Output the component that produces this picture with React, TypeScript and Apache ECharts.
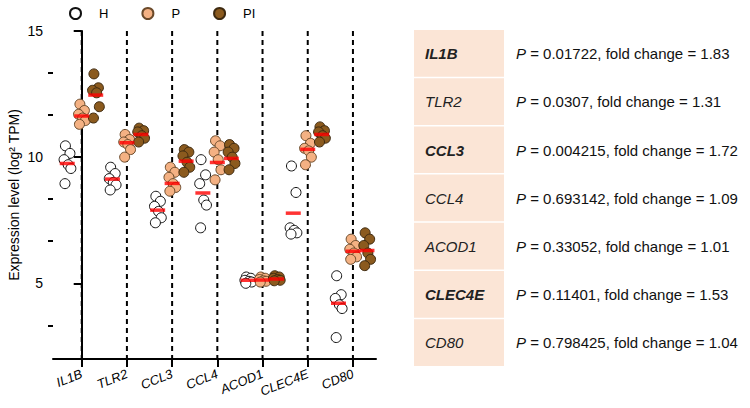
import React, { useEffect, useRef } from "react";
import * as echarts from "echarts";

const genes = ["IL1B", "TLR2", "CCL3", "CCL4", "ACOD1", "CLEC4E", "CD80"];
const groupNames = ["H", "P", "PI"];

const hValues = [
  [10.45, 10.15, 9.9, 9.7, 9.55, 8.95],
  [9.6, 9.35, 9.15, 9.0, 8.9, 8.7],
  [8.45, 8.25, 8.05, 7.85, 7.6, 7.4],
  [9.9, 9.3, 8.95, 8.3, 8.1, 7.2],
  [5.25, 5.2, 5.12, 5.08, 5.05, 5.0],
  [9.65, 8.6, 7.2, 7.1, 7.0, 6.95],
  [5.3, 4.55, 4.4, 4.15, 4.0, 2.85],
];
const pValues = [
  [12.1, 11.85, 11.7, 11.55, 11.45, 11.3],
  [10.9, 10.7, 10.6, 10.5, 10.3, 10.0],
  [9.6, 9.4, 9.2, 8.95, 8.8, 8.65],
  [10.65, 10.45, 10.2, 9.9, 9.5, 9.1],
  [5.25, 5.2, 5.15, 5.1, 5.08, 5.05],
  [10.85, 10.55, 10.35, 10.25, 10.0, 9.7],
  [6.75, 6.5, 6.35, 6.2, 6.05, 5.95],
];
const piValues = [
  [13.3, 12.75, 12.65, 12.55, 12.0, 11.55],
  [11.15, 11.05, 11.0, 10.85, 10.75, 10.6],
  [10.3, 10.2, 10.05, 9.8, 9.6, 9.4],
  [10.5, 10.35, 10.2, 10.0, 9.75, 9.5],
  [5.3, 5.25, 5.2, 5.15, 5.12, 5.1],
  [11.2, 11.05, 11.0, 10.85, 10.75, 10.6],
  [7.0, 6.75, 6.5, 6.2, 5.95, 5.7],
];
const hMeans = [9.75, 9.13, 7.9, 8.58, 5.12, 7.78, 4.21];
const pMeans = [11.63, 10.57, 8.96, 9.79, 5.13, 10.31, 6.27];
const piMeans = [12.46, 10.9, 9.84, 9.95, 5.17, 10.9, 6.3];

const yMin = 2;
const yMax = 15;
const yLabelTicks = [5, 10, 15];
const yMinorTicks = [3.333, 6.667, 8.333, 11.667, 13.333];

const tablePValues = ["0.01722", "0.0307", "0.004215", "0.693142", "0.33052", "0.11401", "0.798425"];
const foldChanges = ["1.83", "1.31", "1.72", "1.09", "1.01", "1.53", "1.04"];
const boldGenes = [true, false, true, false, false, true, false];

const FONT = "'Liberation Sans', Arial, sans-serif";
const groupOffsets = [-0.32, 0, 0.31];
const jitter = [-0.04, 0.06, -0.07, 0.02, 0.08, -0.05];

export default function App() {
  const ref = useRef<HTMLDivElement>(null);
  useEffect(() => {
    if (!ref.current) return;
    const chart = echarts.init(ref.current, null, { renderer: "svg" });
    const groups = [hValues, pValues, piValues];
    const means = [hMeans, pMeans, piMeans];
    const fills = ["#ffffff", "#F4B183", "#8B5A1E"];
    const borders = ["#111111", "#6b4a2a", "#3e2a10"];

    const dashSeries = {
      type: "line",
      name: "divider",
      silent: true,
      symbol: "none",
      connectNulls: false,
      z: 1,
      lineStyle: { type: [5, 4], color: "#000", width: 2 },
      data: genes.flatMap((_, i) => [[i, yMax], [i, yMin], [i, "-"]]),
    };

    const pointSeries: any[] = groups.map((vals, g) => ({
      type: "scatter",
      name: groupNames[g],
      symbol: "circle",
      symbolSize: 10,
      z: 3 + g,
      itemStyle: { color: fills[g], borderColor: borders[g], borderWidth: 1, opacity: 1 },
      data: vals.flatMap((arr, i) =>
        arr.map((v, j) => [i + groupOffsets[g] + jitter[j], v])
      ),
    }));

    const meanSeries = {
      type: "scatter",
      name: "mean",
      symbol: "rect",
      symbolSize: [15, 3.5],
      z: 10,
      itemStyle: { color: "#ff0000" },
      data: means.flatMap((m, g) => m.map((v, i) => [i + groupOffsets[g], v])),
    };

    const tableGraphics: any[] = [];
    const rowH = 48.2;
    genes.forEach((gname, i) => {
      const y0 = 30 + i * rowH;
      tableGraphics.push({
        type: "rect",
        shape: { x: 414, y: y0, width: 90, height: rowH - 1.5 },
        style: { fill: "#FBE5D6" },
      });
      tableGraphics.push({
        type: "text",
        x: 425,
        y: y0 + rowH / 2 - 0.5,
        style: {
          text: gname,
          fontFamily: FONT,
          fontSize: 15,
          fontStyle: "italic",
          fontWeight: boldGenes[i] ? "bold" : "normal",
          fill: "#222",
          verticalAlign: "middle",
          align: "left",
        },
      });
      tableGraphics.push({
        type: "text",
        x: 516,
        y: y0 + rowH / 2 - 0.5,
        style: {
          text: "{i|P} = " + tablePValues[i] + ", fold change = " + foldChanges[i],
          fontFamily: FONT,
          fontSize: 15,
          fill: "#111",
          verticalAlign: "middle",
          align: "left",
          rich: {
            i: { fontStyle: "italic", fontFamily: FONT, fontSize: 15, fill: "#111" },
          },
        },
      });
    });

    chart.setOption({
      animation: false,
      textStyle: { fontFamily: FONT },
      legend: {
        data: groupNames,
        left: 64,
        top: 2,
        icon: "circle",
        itemWidth: 11,
        itemHeight: 11,
        itemGap: 33,
        textStyle: { fontSize: 13, color: "#000", fontFamily: FONT, padding: [0, 0, 0, 13] },
      },
      grid: { left: 53, right: 374, top: 31, bottom: 49 },
      xAxis: {
        type: "value",
        min: -0.635,
        max: 6.51,
        splitLine: { show: false },
        axisLine: { show: true, lineStyle: { color: "#000", width: 2 } },
        axisTick: { show: true, customValues: genes.map((_, i) => i), length: 8, lineStyle: { color: "#000", width: 2 } },
        axisLabel: {
          customValues: genes.map((_, i) => i),
          formatter: (v: number) => genes[Math.round(v)] ?? "",
          rotate: 22,
          fontStyle: "italic",
          fontSize: 13,
          color: "#000",
          margin: 14,
          fontFamily: FONT,
        },
      },
      yAxis: [
        {
          type: "value",
          min: yMin,
          max: yMax,
          position: "left",
          splitLine: { show: false },
          axisLine: { show: true, lineStyle: { color: "#000", width: 2 } },
          axisTick: { show: true, customValues: yLabelTicks, length: 8, lineStyle: { color: "#000", width: 2 } },
          axisLabel: { customValues: yLabelTicks, fontSize: 14, color: "#000", margin: 10, fontFamily: FONT },
          name: "Expression level (log² TPM)",
          nameLocation: "middle",
          nameGap: 32,
          nameTextStyle: { fontSize: 14, color: "#000", fontFamily: FONT },
        },
        {
          type: "value",
          min: yMin,
          max: yMax,
          position: "left",
          offset: 0,
          splitLine: { show: false },
          axisLine: { show: false },
          axisTick: { show: true, customValues: yMinorTicks, length: 5, lineStyle: { color: "#000", width: 2 } },
          axisLabel: { show: false },
        },
      ],
      series: [dashSeries, ...pointSeries, meanSeries],
      graphic: tableGraphics,
    });
    return () => chart.dispose();
  }, []);
  return (
    <div
      ref={ref}
      style={{ position: "fixed", left: 0, top: 0, width: 750, height: 408, background: "#fff" }}
    />
  );
}
